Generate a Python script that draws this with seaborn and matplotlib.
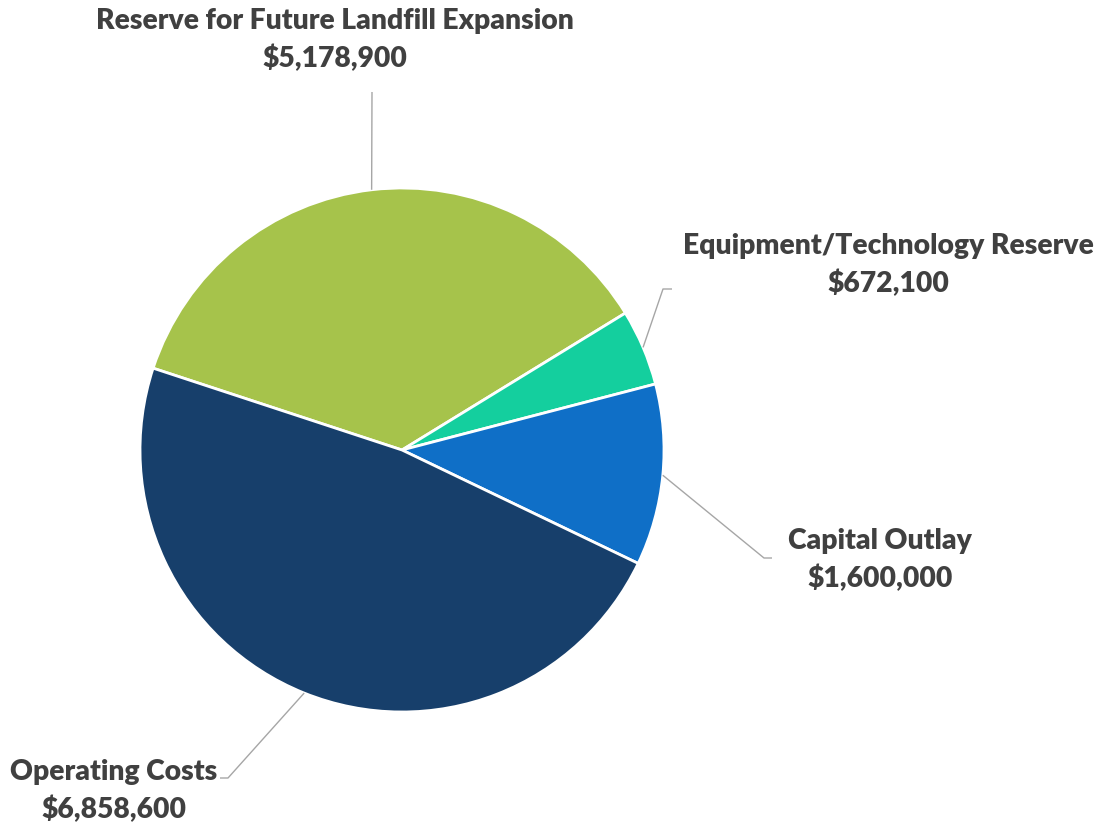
import numpy as np
import matplotlib
matplotlib.use("Agg")
import matplotlib.pyplot as plt
import seaborn as sns

# Data
categories = ["Reserve for Future Landfill Expansion", "Equipment/Technology Reserve",
              "Capital Outlay", "Operating Costs"]
values = [5178900, 672100, 1600000, 6858600]
value_labels = ["$5,178,900", "$672,100", "$1,600,000", "$6,858,600"]
colors = ["#A6C34B", "#14CF9E", "#0F6FC7", "#173F6B"]

sns.set_theme(style="white")
plt.rcParams['font.family'] = ['Lato', 'DejaVu Sans']

W, H = 1105, 825
CX, CY, R = 402, 450, 262  # pixel centre/radius of pie

fig = plt.figure(figsize=(W / 100, H / 100), dpi=100)
ax = fig.add_axes([0, 0, 1, 1])
ax.set_aspect('equal')
ax.axis('off')


def p2d(px, py):
    return ((px - CX) / R, (CY - py) / R)


wedges, _ = ax.pie(values, colors=colors, startangle=161.8, counterclock=False,
                   radius=1, center=(0, 0),
                   wedgeprops=dict(edgecolor='white', linewidth=2))
ax.set_xlim(-CX / R, (W - CX) / R)
ax.set_ylim(-(H - CY) / R, CY / R)

# label layout (pixel positions of text centres and leader elbows)
label_pos = [(335, 40), (888, 265), (880, 560), (114, 791)]
elbows = [[(372, 92)], [(663, 289), (672, 289)], [(764, 558), (772, 558)],
          [(228, 778), (220, 778)]]

fs = 20
texts = []
for w, cat, vl, lp, el in zip(wedges, categories, value_labels, label_pos, elbows):
    ang = np.deg2rad((w.theta1 + w.theta2) / 2)
    xs = [np.cos(ang)] + [p2d(*p)[0] for p in el]
    ys = [np.sin(ang)] + [p2d(*p)[1] for p in el]
    ax.plot(xs, ys, color='#A6A6A6', lw=1.0, solid_capstyle='butt')
    t = ax.text(*p2d(*lp), f"{cat}\n{vl}", ha='center', va='center',
                fontsize=fs, fontweight='heavy', color='#404040', linespacing=1.5)
    texts.append(t)

# fit font size so that the longest label matches reference width
fig.canvas.draw()
r = fig.canvas.get_renderer()
t0 = ax.text(0, 0, categories[0], fontsize=fs, fontweight='heavy')
wpx = t0.get_window_extent(r).width
t0.remove()
scale = 478 / wpx
for t in texts:
    t.set_fontsize(fs * scale)

fig.savefig("out.png", dpi=100)
